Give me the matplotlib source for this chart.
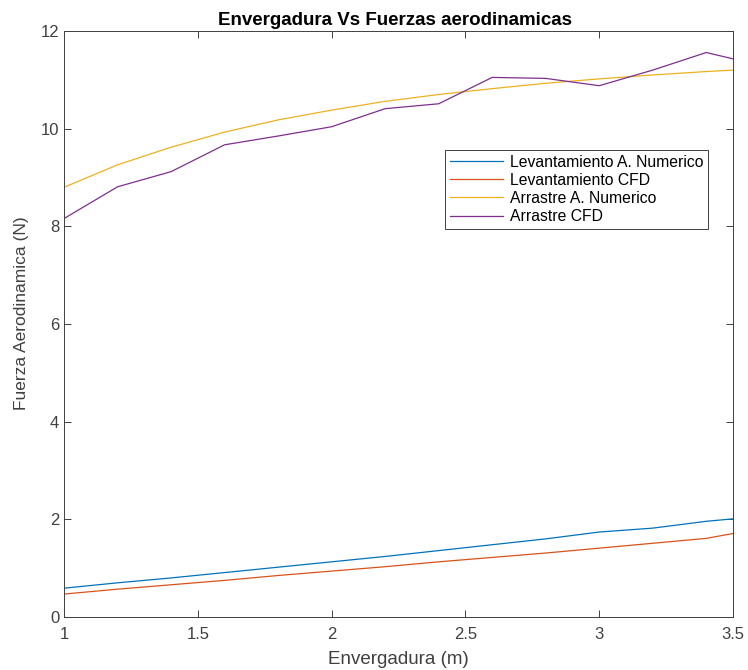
import matplotlib
matplotlib.use("Agg")
import matplotlib.pyplot as plt

plt.rcParams['font.family'] = ['Liberation Sans', 'DejaVu Sans']

envergadura = [1.0, 1.2, 1.4, 1.6, 1.8, 2.0, 2.2, 2.4, 2.6, 2.8, 3.0, 3.2, 3.4, 3.5]
lev_num = [0.59, 0.70, 0.80, 0.91, 1.02, 1.13, 1.24, 1.36, 1.48, 1.60, 1.74, 1.82, 1.96, 2.01]
lev_cfd = [0.47, 0.57, 0.66, 0.75, 0.85, 0.94, 1.03, 1.13, 1.22, 1.31, 1.41, 1.51, 1.61, 1.71]
arr_num = [8.80, 9.26, 9.62, 9.93, 10.18, 10.38, 10.56, 10.70, 10.82, 10.93, 11.02, 11.10, 11.17, 11.20]
arr_cfd = [8.16, 8.81, 9.12, 9.67, 9.85, 10.04, 10.41, 10.51, 11.05, 11.03, 10.88, 11.20, 11.56, 11.43]

labels = ["Levantamiento A. Numerico", "Levantamiento CFD", "Arrastre A. Numerico", "Arrastre CFD"]
colors = [(0, 0.447, 0.741), (0.85, 0.325, 0.098), (0.929, 0.694, 0.125), (0.494, 0.184, 0.556)]

fig = plt.figure(figsize=(7.48, 6.7), dpi=100)
ax = fig.add_axes([0.0856, 0.0791, 0.8944, 0.8746])

for ys, lab, c in zip([lev_num, lev_cfd, arr_num, arr_cfd], labels, colors):
    ax.plot(envergadura, ys, color=c, lw=0.9, label=lab)

ax.set_xlim(1, 3.5)
ax.set_ylim(0, 12)
ax.set_xticks([1, 1.5, 2, 2.5, 3, 3.5])
ax.set_xticklabels(["1", "1.5", "2", "2.5", "3", "3.5"])
ax.set_yticks([0, 2, 4, 6, 8, 10, 12])
ax.tick_params(direction='in', length=5, width=0.7, labelsize=12, colors='#404040',
               top=True, right=True)
ax.tick_params(axis='x', pad=7)
for s in ax.spines.values():
    s.set_color('#404040')
    s.set_linewidth(0.7)

ax.set_xlabel("Envergadura (m)", fontsize=13.5, color='#404040')
ax.xaxis.set_label_coords(0.5, -0.058)
ax.set_ylabel("Fuerza Aerodinamica (N)", fontsize=12.5, color='#404040')
ax.yaxis.set_label_coords(-0.052, 0.519)
ax.set_title("Envergadura Vs Fuerzas aerodinamicas", fontsize=13.5, fontweight='bold',
             pad=4, x=0.494)

leg = ax.legend(loc='upper left', bbox_to_anchor=(0.5695, 0.797), fontsize=11.3,
                handlelength=3.4, handletextpad=0.45, labelspacing=0.2,
                borderpad=0.3, borderaxespad=0, fancybox=False, framealpha=1)
leg.get_frame().set_edgecolor('#404040')
leg.get_frame().set_linewidth(0.7)

fig.savefig("out.png", dpi=100)
